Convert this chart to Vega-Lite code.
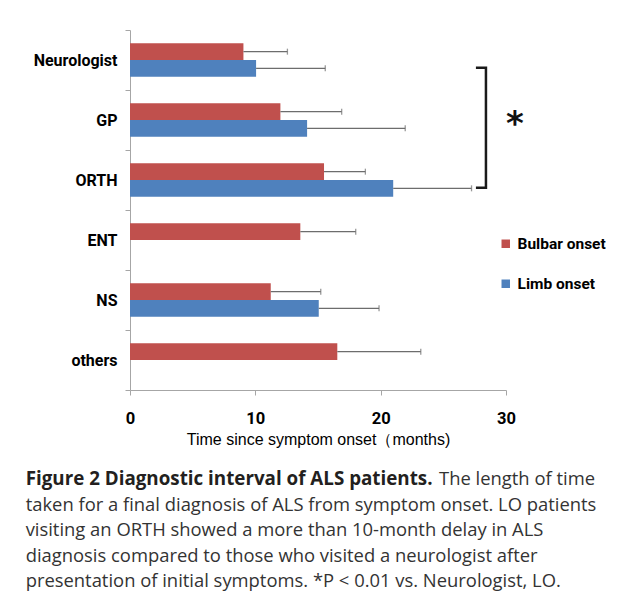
{
  "$schema": "https://vega.github.io/schema/vega-lite/v6.json",
  "padding": {"left": 25, "top": 22, "right": 0, "bottom": 6},
  "background": "white",
  "config": {"view": {"stroke": null}, "font": "Liberation Sans"},
  "datasets": {
    "bars": [
      {"cat": "Neurologist", "onset": "Bulbar onset", "mean": 9.05, "upper": 12.56},
      {"cat": "Neurologist", "onset": "Limb onset", "mean": 10.06, "upper": 15.58},
      {"cat": "GP", "onset": "Bulbar onset", "mean": 12.0, "upper": 16.89},
      {"cat": "GP", "onset": "Limb onset", "mean": 14.13, "upper": 21.96},
      {"cat": "ORTH", "onset": "Bulbar onset", "mean": 15.48, "upper": 18.78},
      {"cat": "ORTH", "onset": "Limb onset", "mean": 21.0, "upper": 27.25},
      {"cat": "ENT", "onset": "Bulbar onset", "mean": 13.59, "upper": 18.01},
      {"cat": "NS", "onset": "Bulbar onset", "mean": 11.23, "upper": 15.22},
      {"cat": "NS", "onset": "Limb onset", "mean": 15.06, "upper": 19.87},
      {"cat": "others", "onset": "Bulbar onset", "mean": 16.54, "upper": 23.2}
    ],
    "bracket": [
      {"k": 1, "cat": "Neurologist", "x": 27.6},
      {"k": 2, "cat": "Neurologist", "x": 28.4},
      {"k": 3, "cat": "ORTH", "x": 28.4},
      {"k": 4, "cat": "ORTH", "x": 27.6}
    ],
    "star": [{"cat": "GP", "x": 30.7, "label": "*"}],
    "capBold": [{"line": 1, "pos": 0, "text": "Figure 2 Diagnostic interval of ALS patients."}],
    "capRight": [{"line": 1, "pos": 1, "text": "The length of time"}],
    "capLeft": [
      {"line": 2, "pos": 0, "text": "taken for a final diagnosis of ALS from symptom onset. LO patients"},
      {"line": 3, "pos": 0, "text": "visiting an ORTH showed a more than 10-month delay in ALS"},
      {"line": 4, "pos": 0, "text": "diagnosis compared to those who visited a neurologist after"},
      {"line": 5, "pos": 0, "text": "presentation of initial symptoms. *P < 0.01 vs. Neurologist, LO."}
    ]
  },
  "resolve": {"scale": {"x": "independent", "y": "independent", "color": "independent"}, "legend": {"color": "independent"}},
  "spacing": 22,
  "vconcat": [
    {
      "width": 376,
      "height": 360,
      "layer": [
        {
          "data": {"name": "bars"},
          "mark": {"type": "bar"},
          "encoding": {
            "y": {
              "field": "cat", "type": "nominal",
              "scale": {"domain": ["Neurologist", "GP", "ORTH", "ENT", "NS", "others"], "paddingInner": 0, "paddingOuter": 0},
              "axis": {
                "title": null, "labelFont": "Roboto", "labelFontWeight": "bold", "labelFontSize": 16,
                "labelColor": "#000", "domainColor": "#a6a6a6", "tickColor": "#a6a6a6", "tickSize": 5,
                "tickBand": "extent", "labelPadding": 8
              }
            },
            "yOffset": {"field": "onset", "type": "nominal", "scale": {"domain": ["Bulbar onset", "Limb onset"], "paddingOuter": 0.8, "paddingInner": 0}},
            "x": {
              "field": "mean", "type": "quantitative",
              "scale": {"domain": [0, 30]},
              "axis": {
                "values": [0, 10, 20, 30], "grid": false, "title": "Time since symptom onset（months)",
                "titleFont": "Liberation Sans", "titleFontWeight": "normal", "titleFontSize": 16, "titleColor": "#000",
                "labelFont": "Roboto", "labelFontWeight": "bold", "labelFontSize": 16.5, "labelColor": "#000",
                "domainColor": "#a6a6a6", "tickColor": "#a6a6a6", "tickSize": 5, "labelPadding": 15, "titlePadding": 5,
                "labelFlush": false
              }
            },
            "color": {
              "field": "onset", "type": "nominal",
              "scale": {"domain": ["Bulbar onset", "Limb onset"], "range": ["#C0504D", "#4F81BD"]},
              "legend": {
                "title": null, "orient": "none", "legendX": 368, "legendY": 206, "padding": 0,
                "symbolType": "square", "symbolSize": 72, "symbolStrokeWidth": 0, "symbolOpacity": 1,
                "labelFont": "Roboto", "labelFontWeight": "bold", "labelFontSize": 15.5, "labelColor": "#000",
                "labelOffset": 4, "rowPadding": 23
              }
            }
          }
        },
        {
          "data": {"name": "bars"},
          "mark": {"type": "rule", "color": "#6d6d6d", "strokeWidth": 1.3},
          "encoding": {
            "y": {"field": "cat", "type": "nominal", "scale": {"domain": ["Neurologist", "GP", "ORTH", "ENT", "NS", "others"]}},
            "yOffset": {"field": "onset", "type": "nominal", "scale": {"domain": ["Bulbar onset", "Limb onset"]}},
            "x": {"field": "mean", "type": "quantitative", "scale": {"domain": [0, 30]}},
            "x2": {"field": "upper"}
          }
        },
        {
          "data": {"name": "bars"},
          "mark": {"type": "tick", "color": "#6d6d6d", "thickness": 1.3, "size": 6, "orient": "vertical"},
          "encoding": {
            "y": {"field": "cat", "type": "nominal", "scale": {"domain": ["Neurologist", "GP", "ORTH", "ENT", "NS", "others"]}},
            "yOffset": {"field": "onset", "type": "nominal", "scale": {"domain": ["Bulbar onset", "Limb onset"]}},
            "x": {"field": "upper", "type": "quantitative", "scale": {"domain": [0, 30]}}
          }
        },
        {
          "data": {"name": "bracket"},
          "mark": {"type": "line", "color": "#1a1a1a", "strokeWidth": 2.5},
          "encoding": {
            "x": {"field": "x", "type": "quantitative", "scale": {"domain": [0, 30]}},
            "y": {"field": "cat", "type": "nominal", "bandPosition": 0.63, "scale": {"domain": ["Neurologist", "GP", "ORTH", "ENT", "NS", "others"]}},
            "order": {"field": "k"}
          }
        },
        {
          "data": {"name": "star"},
          "mark": {"type": "text", "font": "DejaVu Sans", "fontSize": 34, "fontWeight": "bold", "baseline": "middle", "align": "center", "color": "#111"},
          "encoding": {
            "x": {"field": "x", "type": "quantitative", "scale": {"domain": [0, 30]}},
            "y": {"field": "cat", "type": "nominal", "bandPosition": 0.585, "scale": {"domain": ["Neurologist", "GP", "ORTH", "ENT", "NS", "others"]}},
            "text": {"field": "label"}
          }
        }
      ]
    },
    {
      "width": 465,
      "height": 102,
      "layer": [
        {
          "data": {"name": "capBold"},
          "mark": {"type": "text", "font": "Open Sans", "fontSize": 18.8, "fontWeight": "bold", "align": "left", "baseline": "middle", "color": "#231f20"},
          "encoding": {
            "x": {"field": "pos", "type": "quantitative", "scale": {"domain": [0.1833, 1]}, "axis": null},
            "y": {"field": "line", "type": "quantitative", "scale": {"domain": [1, 5], "reverse": true}, "axis": null},
            "text": {"field": "text"}
          }
        },
        {
          "data": {"name": "capRight"},
          "mark": {"type": "text", "font": "Open Sans", "fontSize": 18.4, "align": "right", "baseline": "middle", "color": "#333"},
          "encoding": {
            "x": {"field": "pos", "type": "quantitative", "scale": {"domain": [0.1833, 1]}, "axis": null},
            "y": {"field": "line", "type": "quantitative", "scale": {"domain": [1, 5], "reverse": true}, "axis": null},
            "text": {"field": "text"}
          }
        },
        {
          "data": {"name": "capLeft"},
          "mark": {"type": "text", "font": "Open Sans", "fontSize": 18.4, "align": "left", "baseline": "middle", "color": "#333"},
          "encoding": {
            "x": {"field": "pos", "type": "quantitative", "scale": {"domain": [0.1833, 1]}, "axis": null},
            "y": {"field": "line", "type": "quantitative", "scale": {"domain": [1, 5], "reverse": true}, "axis": null},
            "text": {"field": "text"}
          }
        }
      ]
    }
  ]
}
